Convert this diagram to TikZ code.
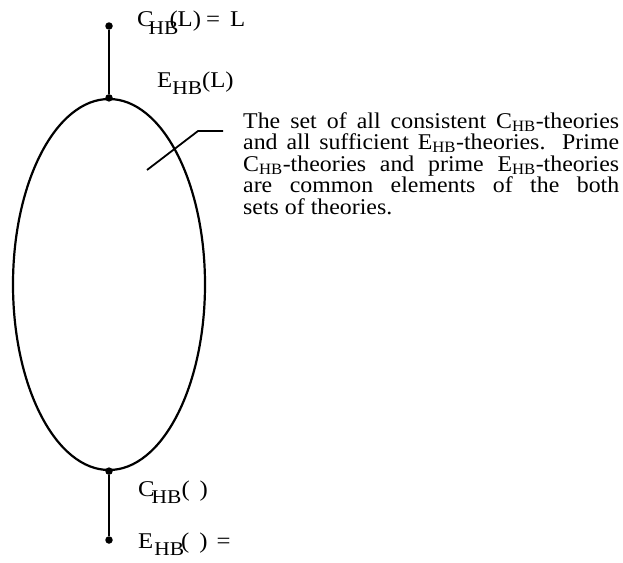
\documentclass[tikz,border=0pt]{standalone}
\usepackage{fontspec}
\setmainfont[FakeStretch=1.06]{Liberation Serif}
\newfontfamily\lblfont[FakeStretch=1.1]{Liberation Serif}
\usetikzlibrary{shapes.geometric,positioning}
\newcommand{\hbsub}{\raisebox{-7pt}{\fontsize{19.5}{19.5}\selectfont HB}}
\newcommand{\tsub}{\textsubscript{HB}}

\begin{document}
\begin{tikzpicture}[x=1pt,y=-1pt,
  dot/.style={circle,fill=black,inner sep=0pt,minimum size=7.5pt},
  lbl/.style={anchor=base west,inner sep=0pt,font=\lblfont\fontsize{22.5}{22.5}\selectfont},
  stem/.style={line width=2.2pt}]
\useasboundingbox (0,0) rectangle (623,562);
% the set of theories
\node[draw,ellipse,line width=2.2pt,minimum width=192pt,minimum height=371pt] (set) at (109,284.5) {};
\node[dot] (ctop) at (109,26) {};
\node[dot] (etop) at (set.north) {};
\node[dot] (cbot) at (set.south) {};
\node[dot] (ebot) at (109,540) {};
\draw[stem] (ctop) -- (etop);
\draw[stem] (cbot) -- (ebot);
% labels
\node[lbl] (ctoplbl) at (137,27) {C\kern-5pt\hbsub\kern-9pt(L)\hspace{5pt}=\hspace{10pt}L};
\node[lbl] (etoplbl) at (157,87) {E\hbsub(L)};
\node[lbl] (cbotlbl) at (138,496) {C\kern-3pt\hbsub(\hspace{10pt})};
\node[lbl] (ebotlbl) at (138,548) {E\kern1pt\hbsub\kern-3pt(\hspace{10pt})\hspace{9pt}=};
% explanation
\node[anchor=north west,inner sep=0pt,text width=376pt,align=justify,font=\fontsize{22.5}{21.5}\selectfont] (txt) at (243,112)
  {\tolerance=10000 The set of all consistent C\tsub-theories\linebreak
   and all sufficient E\tsub-theories. Prime\linebreak
   C\tsub-theories and prime E\tsub-theories\linebreak
   are common elements of the both\linebreak
   sets of theories.};
\coordinate (lead) at (147,170);
\coordinate (bend) at (198,131);
\coordinate (leadend) at (223,131);
\draw[line width=1.8pt] (lead) -- (bend) -- (leadend);
\end{tikzpicture}
\end{document}
